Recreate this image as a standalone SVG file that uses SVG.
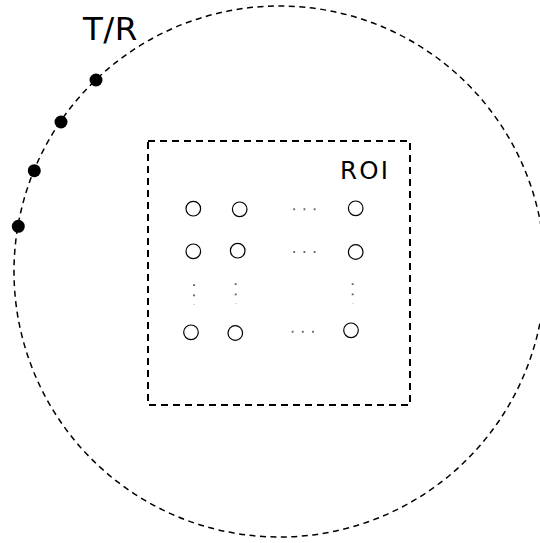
<svg xmlns="http://www.w3.org/2000/svg" width="540" height="543" viewBox="0 0 540 543">
<style>
.dash1{fill:none;stroke:#000;stroke-width:1.5;stroke-dasharray:6 4.5}
.dash2{fill:none;stroke:#000;stroke-width:2;stroke-dasharray:7 5}
.el{fill:#fff;stroke:#000;stroke-width:1.2}
.tr{fill:#000}
.ell{stroke:#666;stroke-width:2;stroke-dasharray:1.8 8.4;fill:none}
.lbl{font-family:"DejaVu Sans","Verdana",sans-serif;fill:#000}
</style>
<rect width="540" height="543" fill="#fff"/>
<g id="fov">
<circle class="dash1" cx="279.5" cy="271.5" r="265.5"/>
</g>
<g id="roi">
<rect class="dash2" x="148" y="141" width="262" height="264"/>
<text class="lbl" x="340" y="179" font-size="24.5" letter-spacing="2.2">ROI</text>
</g>
<g id="transceivers">
<circle class="tr" cx="96" cy="80" r="6.5"/>
<circle class="tr" cx="61" cy="122" r="6.5"/>
<circle class="tr" cx="34.3" cy="170.7" r="6.5"/>
<circle class="tr" cx="18.3" cy="226.3" r="6.5"/>
<text class="lbl" x="83" y="39.5" font-size="32.5" letter-spacing="0.5">T/R</text>
</g>
<g id="elements">
<circle class="el" cx="193.3" cy="208.7" r="7.3"/>
<circle class="el" cx="239.7" cy="209.3" r="7.3"/>
<circle class="el" cx="355.7" cy="208.3" r="7.3"/>
<circle class="el" cx="193.3" cy="251.3" r="7.3"/>
<circle class="el" cx="237.7" cy="250.7" r="7.3"/>
<circle class="el" cx="355.7" cy="252" r="7.3"/>
<circle class="el" cx="191" cy="332.3" r="7.3"/>
<circle class="el" cx="235.3" cy="333" r="7.3"/>
<circle class="el" cx="351" cy="330.3" r="7.3"/>
</g>
<g id="ellipses">
<line class="ell" x1="293.3" y1="209.3" x2="316" y2="209.3"/>
<line class="ell" x1="293.3" y1="252" x2="316" y2="252"/>
<line class="ell" x1="291.7" y1="331.7" x2="314" y2="331.7"/>
<line class="ell" x1="194" y1="284.3" x2="194" y2="305"/>
<line class="ell" x1="235.7" y1="283.3" x2="235.7" y2="304"/>
<line class="ell" x1="352.7" y1="283.3" x2="352.7" y2="304"/>
</g>
</svg>
